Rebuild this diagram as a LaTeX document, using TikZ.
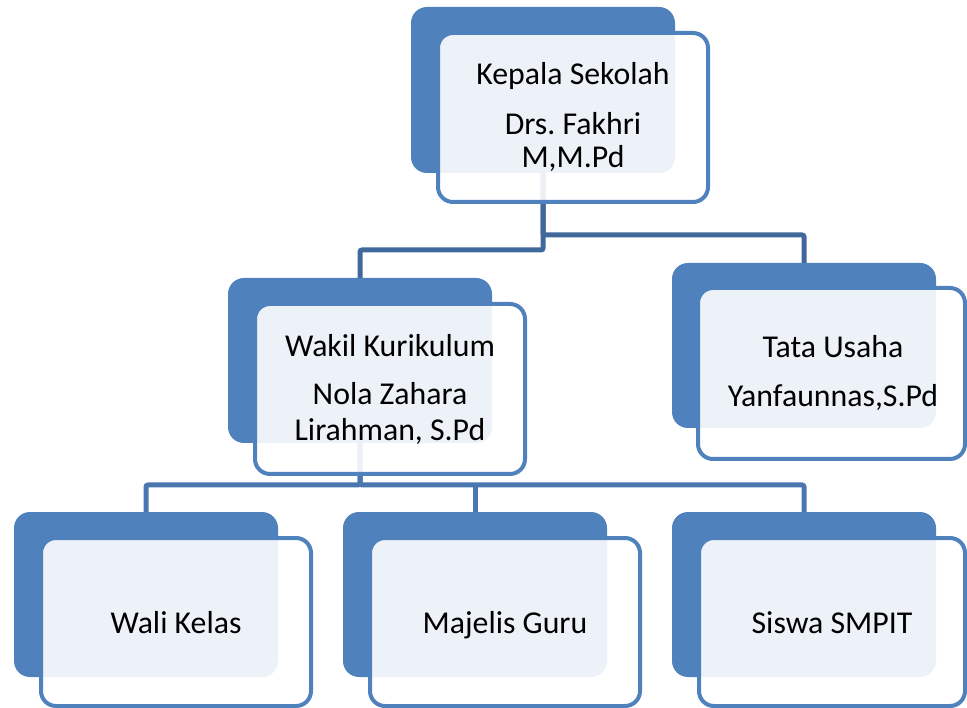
\documentclass[tikz,border=0pt]{standalone}
\usepackage{fontspec}
\setmainfont{Carlito}
\frenchspacing
\definecolor{boxblue}{HTML}{4F81BD}
\definecolor{linedark}{HTML}{41689B}
\definecolor{linelight}{HTML}{4A77AF}
\tikzset{
  backbox/.style={rectangle, rounded corners=16pt, fill=boxblue, draw=none, inner sep=0pt, outer sep=0pt},
  frontbox/.style={rectangle, rounded corners=15pt, fill=white, fill opacity=0.9, draw=boxblue, draw opacity=1, line width=4pt, inner sep=0pt, outer sep=0pt},
  label/.style={anchor=base, inner sep=0pt, font=\fontsize{31.8}{36}\selectfont\frenchspacing, text=black},
  connA/.style={draw=linedark, line width=5pt, rounded corners=2pt},
  connB/.style={draw=linelight, line width=5pt, rounded corners=2pt},
}
\begin{document}
\begin{tikzpicture}[x=1pt,y=-1pt]
\useasboundingbox (0,0) rectangle (967,708);
\path
  (543,90)    coordinate (kepBc)
  (360,360.5) coordinate (wakBc)
  (804,345.5) coordinate (tatBc)
  (146,594.5) coordinate (walBc)
  (475,594.5) coordinate (majBc)
  (804,594.5) coordinate (sisBc);
% connectors (drawn behind boxes)
\coordinate (kepBot) at (543,173);
\coordinate (wakBot) at (360,443);
\coordinate (tatTop) at (804,263);
\coordinate (wakTop) at (360,278);
\coordinate (walTop) at (146,512);
\coordinate (majTop) at (475,512);
\coordinate (sisTop) at (804,512);
\draw[connA] (kepBot) |- (804,235) -- (tatTop);
\draw[connA] (kepBot) |- (360,250) -- (wakTop);
\draw[connB] (wakBot) |- (146,485) -- (walTop);
\draw[connB] (wakBot) |- (804,485) -- (sisTop);
\draw[connB] (majTop) -- (475,485);
% boxes
\node[backbox, minimum width=264pt, minimum height=166pt] (kepB) at (kepBc) {};
\node[frontbox, minimum width=270pt, minimum height=169pt] (kep) at (573,117.5) {};
\node[backbox, minimum width=264pt, minimum height=165pt] (wakB) at (wakBc) {};
\node[frontbox, minimum width=270pt, minimum height=170pt] (wak) at (390,389) {};
\node[backbox, minimum width=264pt, minimum height=165pt] (tatB) at (tatBc) {};
\node[frontbox, minimum width=267pt, minimum height=171pt] (tat) at (831.5,373.5) {};
\node[backbox, minimum width=264pt, minimum height=165pt] (walB) at (walBc) {};
\node[frontbox, minimum width=270pt, minimum height=168pt] (wal) at (176,622) {};
\node[backbox, minimum width=264pt, minimum height=165pt] (majB) at (majBc) {};
\node[frontbox, minimum width=270pt, minimum height=168pt] (maj) at (505,622) {};
\node[backbox, minimum width=264pt, minimum height=165pt] (sisB) at (sisBc) {};
\node[frontbox, minimum width=266pt, minimum height=168pt] (sis) at (832,622) {};
% texts
\node[label] (kep1) at (573,85) {Kepala Sekolah};
\node[label] (kep2) at (573,135) {Drs. Fakhri};
\node[label] (kep3) at (573,168) {M,M.Pd};
\node[label] (wak1) at (390,357) {Wakil Kurikulum};
\node[label] (wak2) at (390,405) {Nola Zahara};
\node[label] (wak3) at (390,441) {Lirahman, S.Pd};
\node[label] (tat1) at (833,358) {Tata Usaha};
\node[label] (tat2) at (833,407) {Yanfaunnas,S.Pd};
\node[label] (wal1) at (176,633) {Wali Kelas};
\node[label] (maj1) at (505,633) {Majelis Guru};
\node[label] (sis1) at (832,633) {Siswa SMPIT};
\end{tikzpicture}
\end{document}
